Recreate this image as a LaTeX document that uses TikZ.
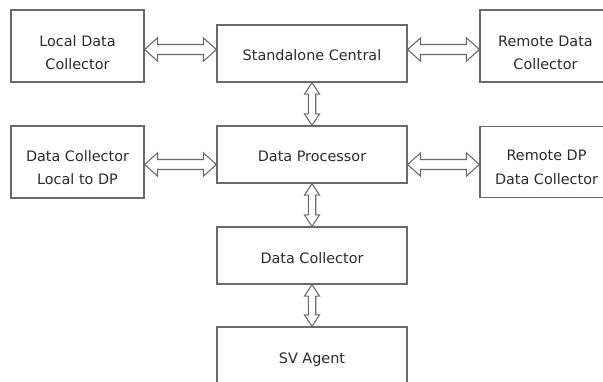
\documentclass[tikz,border=0pt]{standalone}
\usepackage{fontspec}
\setmainfont{DejaVu Sans}
\usetikzlibrary{calc}
\definecolor{edge}{HTML}{6A6A6A}
\definecolor{ink}{HTML}{2B2B2B}
\tikzset{
  box/.style={draw=edge, line width=1.2pt, inner sep=0pt, fill=white},
  wide/.style={box, minimum width=190pt, minimum height=57pt},
  side/.style={box, minimum width=133pt, minimum height=72pt},
  lbl/.style={text=ink, align=center, inner sep=0pt,
    font={\fontsize{14.4}{23.4}\selectfont}},
  % outlined double-headed block arrow, left to right
  harrow/.style={draw=edge, line width=1.1pt, line join=miter,
    to path={let \p1=(\tikztostart), \p2=(\tikztotarget) in
      (\x1,\y1) -- (\x1+13pt,\y1+11.7pt) -- (\x1+13pt,\y1+5pt)
      -- (\x2-13pt,\y1+5pt) -- (\x2-13pt,\y1+11.7pt) -- (\x2,\y1)
      -- (\x2-13pt,\y1-11.7pt) -- (\x2-13pt,\y1-5pt)
      -- (\x1+13pt,\y1-5pt) -- (\x1+13pt,\y1-11.7pt) -- cycle}},
  % outlined double-headed block arrow, top to bottom
  varrow/.style={draw=edge, line width=1.1pt, line join=miter,
    to path={let \p1=(\tikztostart), \p2=(\tikztotarget) in
      (\x1,\y1) -- (\x1+7.5pt,\y1-11.5pt) -- (\x1+3.7pt,\y1-11.5pt)
      -- (\x1+3.7pt,\y2+11.5pt) -- (\x1+7.5pt,\y2+11.5pt) -- (\x1,\y2)
      -- (\x1-7.5pt,\y2+11.5pt) -- (\x1-3.7pt,\y2+11.5pt)
      -- (\x1-3.7pt,\y1-11.5pt) -- (\x1-7.5pt,\y1-11.5pt) -- cycle}}
}
\begin{document}
\begin{tikzpicture}[x=1pt, y=-1pt]
  \useasboundingbox (0,0) rectangle (603,381);
  \clip (0,0) rectangle (603,381);

  % boxes
  \node[side] (ldc) at (77.5,46) {};
  \node[wide] (sc)  at (312,53.5) {};
  \node[box, minimum width=131pt, minimum height=72pt] (rdc) at (545.5,46) {};
  \node[side] (dcl) at (77.5,162) {};
  \node[wide] (dp)  at (312,154.5) {};
  \node[box, minimum width=131pt, minimum height=71pt] (rdp) at (545.5,162) {};
  \node[wide] (dc)  at (312,255.5) {};
  \node[wide] (sv)  at (312,355.5) {};

  % captions
  \node[lbl] (ldc-t) at (77.5,52.9)  {Local Data\\Collector};
  \node[lbl] (sc-t)  at (312,55.5)   {Standalone Central};
  \node[lbl] (rdc-t) at (545.5,53)   {Remote Data\\Collector};
  \node[lbl] (dcl-t) at (77.5,167.8) {Data Collector\\Local to DP};
  \node[lbl] (dp-t)  at (312,156.4)  {Data Processor};
  \node[lbl] (rdp-t) at (546.5,167.3){Remote DP\\Data Collector};
  \node[lbl] (dc-t)  at (312,257.7)  {Data Collector};
  \node[lbl] (sv-t)  at (312,359.6)  {SV Agent};

  % heights of the horizontal links
  \coordinate (r1) at (0,49.5);
  \coordinate (r2) at (0,164.5);

  % links
  \draw[harrow] (ldc.east |- r1) to (sc.west |- r1);
  \draw[harrow] (sc.east |- r1)  to (rdc.west |- r1);
  \draw[harrow] (dcl.east |- r2) to (dp.west |- r2);
  \draw[harrow] (dp.east |- r2)  to (rdp.west |- r2);
  \draw[varrow] (sc.south) to (dp.north);
  \draw[varrow] (dp.south) to (dc.north);
  \draw[varrow] (dc.south) to (sv.north);
\end{tikzpicture}
\end{document}
